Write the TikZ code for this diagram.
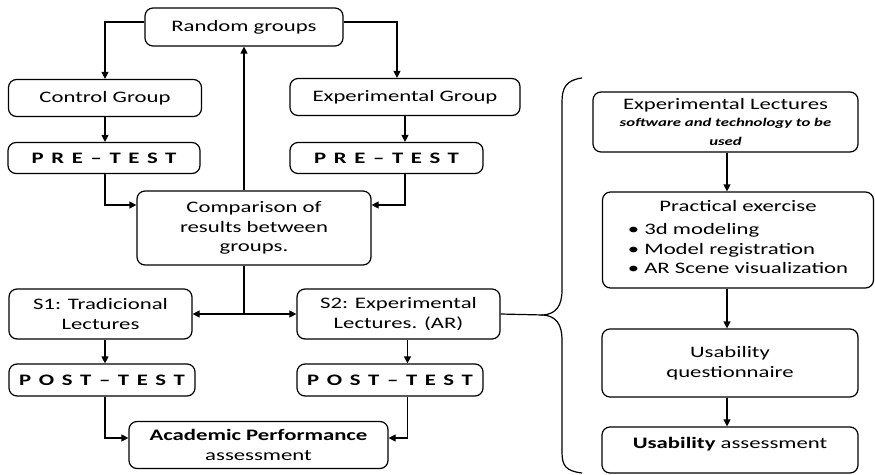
\documentclass[tikz,border=0pt]{standalone}
\usepackage{fontspec}
\setmainfont{Carlito}[FakeStretch=1.42]
\usepackage{tikz}
\usetikzlibrary{positioning,calc,arrows.meta}
\tikzset{>={Triangle[length=7pt,width=7pt]}}
\tikzset{
  box/.style={draw,rounded corners=8pt,line width=1.2pt,align=center,inner sep=2pt,
    font=\fontsize{16}{19.5}\selectfont},
  conn/.style={line width=1.2pt}
}
\newcommand{\spaced}[1]{{\bfseries\addfontfeatures{LetterSpace=48}#1}}
\newcommand{\smallit}{\fontsize{11.8}{14}\selectfont\bfseries\itshape}

\begin{document}
\begin{tikzpicture}[x=1pt,y=-1pt]
\useasboundingbox (0,0) rectangle (875,474);
% left part
\node[box,minimum width=198pt,minimum height=38pt] (rand) at (244,27) {Random groups};
\node[box,minimum width=193pt,minimum height=37pt] (ctrl) at (105,98) {Control Group};
\node[box,minimum width=230pt,minimum height=37pt] (expg) at (405,97) {Experimental Group};
\node[box,minimum width=192pt,minimum height=31pt] (pre1) at (104,158) {\spaced{PRE–TEST}};
\node[box,minimum width=193pt,minimum height=31pt] (pre2) at (386.5,158) {\spaced{PRE–TEST}};
\node[box,minimum width=234pt,minimum height=74pt] (comp) at (254,228) {Comparison of\\results between\\groups.};
\node[box,minimum width=183pt,minimum height=50pt] (s1) at (100.5,314) {S1: Tradicional\\Lectures};
\node[box,minimum width=203pt,minimum height=50pt] (s2) at (398.5,314) {S2: Experimental\\Lectures. (AR)};
\node[box,minimum width=186pt,minimum height=32pt] (post1) at (102,380) {\spaced{POST–TEST}};
\node[box,minimum width=186pt,minimum height=32pt] (post2) at (390,380) {\spaced{POST–TEST}};
\node[box,minimum width=259pt,minimum height=47pt] (acad) at (258.5,445) {\textbf{Academic Performance}\\assessment};
% right part
\node[box,minimum width=265pt,minimum height=60pt] (expl) at (725.5,122)
  {Experimental Lectures\\[-3pt]\smallit software and technology to be\\\smallit used};
\node[box,minimum width=271pt,minimum height=96pt] (prac) at (738,240)
  {Practical exercise\\[4pt]\begin{tabular}[t]{@{}l@{}}\textbullet\ 3d modeling\\\textbullet\ Model registration\\\textbullet\ AR Scene visualization\end{tabular}};
\node[box,minimum width=256pt,minimum height=68pt] (usq) at (730,363) {Usability\\questionnaire};
\node[box,minimum width=256pt,minimum height=46pt,text depth=14pt] (usa) at (730,450) {\textbf{Usability} assessment};
% connectors
\draw[conn,->] ([yshift=5pt]rand.west) -| (ctrl.north);
\draw[conn,->] ([yshift=5pt]rand.east) -| ([xshift=-8pt]expg.north);
\draw[conn,->] (ctrl.south) -- (ctrl.south |- pre1.north);
\draw[conn,->] (expg.south) -- (expg.south |- pre2.north);
\draw[conn,->] (ctrl.south |- pre1.south) |- ([yshift=23pt]comp.west);
\draw[conn,->] (expg.south |- pre2.south) |- ([yshift=23pt]comp.east);
\draw[conn,->] (rand.south |- comp.north) -- (rand.south);
\coordinate (mid) at (rand.south |- s1.east);
\draw[conn] (rand.south |- comp.south) -- (mid);
\draw[conn,->] (mid) -- (s1.east);
\draw[conn,->] (mid) -- (s2.west);
\draw[conn,->] (ctrl.south |- s1.south) -- (ctrl.south |- post1.north);
\draw[conn,->] ([xshift=9pt]s2.south) -- ([xshift=9pt]s2.south |- post2.north);
\draw[conn,->] (ctrl.south |- post1.south) |- ([yshift=7pt]acad.west);
\draw[conn,->] ([xshift=9pt]s2.south |- post2.south) |- ([yshift=7pt]acad.east);
\draw[conn,->] (expl.south -| 727,0) -- (prac.north -| 727,0);
\draw[conn,->] (prac.south -| 727,0) -- (usq.north -| 727,0);
\draw[conn,->] (usq.south -| 727,0) -- (usa.north -| 727,0);
% brace
\coordinate (tip) at (543,315);
\draw[conn] (s2.east) -- (tip);
\draw[conn] (582,78) .. controls (566,80) and (562,88) .. (562,102)
  -- (562,290) .. controls (562,306) and (556,314) .. (tip)
  .. controls (556,316) and (562,324) .. (562,340)
  -- (562,452) .. controls (562,466) and (566,471) .. (582,473);
\end{tikzpicture}
\end{document}
